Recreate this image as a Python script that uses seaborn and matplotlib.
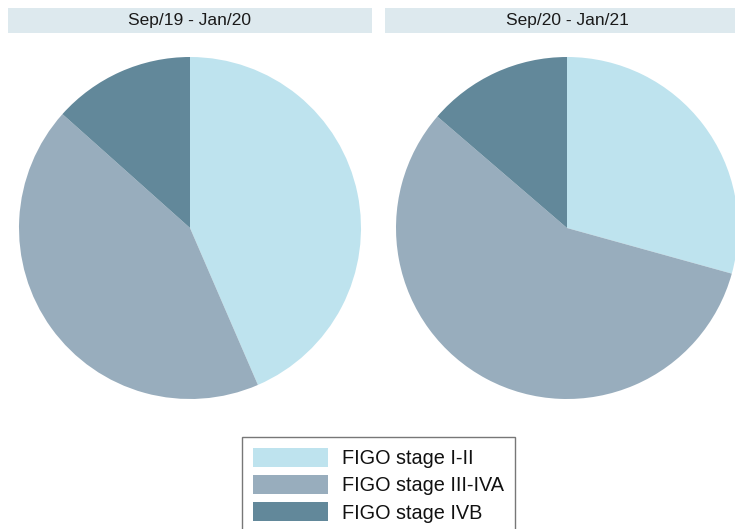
import matplotlib
matplotlib.use("Agg")
import matplotlib.pyplot as plt
from matplotlib.patches import Rectangle
import seaborn as sns

# Share of patients by FIGO stage in each period (%)
periods = ["Sep/19 - Jan/20", "Sep/20 - Jan/21"]
stages = ["FIGO stage I-II", "FIGO stage III-IVA", "FIGO stage IVB"]
share_2019 = [43.5, 43.1, 13.4]
share_2020 = [29.3, 57.0, 13.7]

sns.set_theme(style="white")
plt.rcParams["font.family"] = ["Liberation Sans", "DejaVu Sans"]

colors = ["#bee3ee", "#98adbd", "#62889a"]
strip_color = "#dde9ee"

W, H = 735, 529
fig = plt.figure(figsize=(W / 100, H / 100), dpi=100)
fig.patch.set_facecolor("white")

pie_centers_x = [190, 567]
radius = 171
center_y = 228
strip_spans = [(8, 372), (385, 749)]

for cx, (s0, s1), title, values in zip(pie_centers_x, strip_spans, periods,
                                         [share_2019, share_2020]):
    ax = fig.add_axes([(cx - radius) / W, (H - center_y - radius) / H,
                       2 * radius / W, 2 * radius / H])
    ax.pie(values, colors=colors, startangle=90, counterclock=False,
           radius=1.0, wedgeprops=dict(linewidth=0))
    ax.set_xlim(-1, 1)
    ax.set_ylim(-1, 1)
    ax.set_aspect("equal")
    ax.axis("off")

    # Panel header strip
    fig.patches.append(Rectangle((s0 / W, (H - 33) / H), (s1 - s0) / W, 25 / H,
                                 transform=fig.transFigure, facecolor=strip_color,
                                 edgecolor="none", zorder=0))
    fig.text(cx / W, (H - 20.5) / H, title, ha="center", va="center",
             fontsize=12.5, color="#1a1a1a")

handles = [Rectangle((0, 0), 1, 1, facecolor=c, edgecolor="none") for c in colors]
leg = fig.legend(handles, stages, loc="upper center",
                 bbox_to_anchor=(378.5 / W, 1 - 437 / H),
                 ncol=1, fontsize=14.3, frameon=True, fancybox=False,
                 handlelength=3.8, handleheight=1.07, handletextpad=0.7,
                 labelspacing=0.36, borderpad=0.55, borderaxespad=0)
leg.get_frame().set_edgecolor("#555555")
leg.get_frame().set_linewidth(1.0)
for t in leg.get_texts():
    t.set_color("#111111")

fig.savefig("out.png", dpi=100, facecolor="white")
